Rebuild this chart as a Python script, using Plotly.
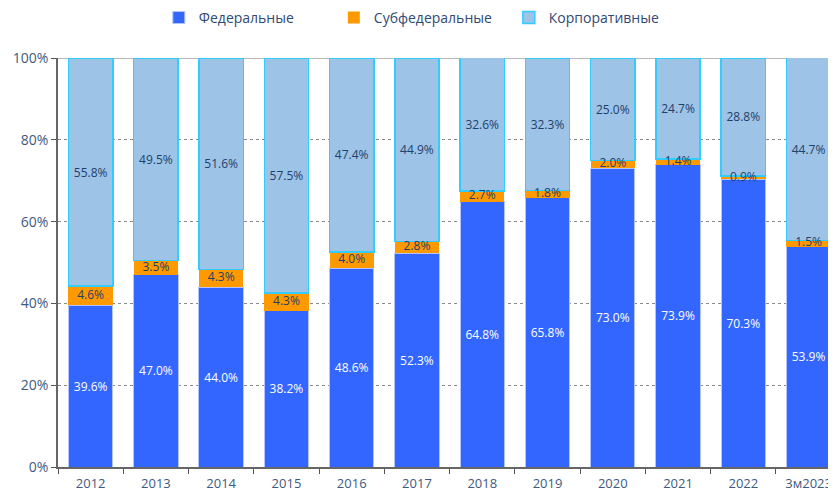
import plotly.graph_objects as go

categories = ["2012", "2013", "2014", "2015", "2016", "2017", "2018", "2019", "2020", "2021", "2022", "3м2023"]
federal = [39.6, 47.0, 44.0, 38.2, 48.6, 52.3, 64.8, 65.8, 73.0, 73.9, 70.3, 53.9]
subfederal = [4.6, 3.5, 4.3, 4.3, 4.0, 2.8, 2.7, 1.8, 2.0, 1.4, 0.9, 1.5]
corporate = [55.8, 49.5, 51.6, 57.5, 47.4, 44.9, 32.6, 32.3, 25.0, 24.7, 28.8, 44.7]
y_ticks = [0, 20, 40, 60, 80, 100]
y_tick_labels = ["0%", "20%", "40%", "60%", "80%", "100%"]

FONT = "Open Sans"
label_dark = "#1F3F6B"
axis_col = "#3E5A82"

def fmt(v):
    return [f"{x:.1f}%" for x in v]

fig = go.Figure()
fig.add_trace(go.Bar(
    x=categories, y=federal, name="Федеральные",
    marker=dict(color="#3366FF", line=dict(width=1, color="#B3C4FF")),
    text=fmt(federal), textposition="inside", insidetextanchor="middle",
    textfont=dict(color="white", size=12, family=FONT),
))
fig.add_trace(go.Bar(
    x=categories, y=subfederal, name="Субфедеральные",
    marker=dict(color="#FF9900", line=dict(width=0)),
    textposition="none",
))
fig.add_trace(go.Bar(
    x=categories, y=corporate, name="Корпоративные",
    marker=dict(color="#9DC3E6", line=dict(width=1.5, color="#33CCFF")),
    text=fmt(corporate), textposition="inside", insidetextanchor="middle",
    textfont=dict(color=label_dark, size=12, family=FONT),
))
# subfederal labels drawn on top so they can overflow thin segments
sub_mid = [f + s / 2 for f, s in zip(federal, subfederal)]
fig.add_trace(go.Scatter(
    x=categories, y=sub_mid, mode="text", text=fmt(subfederal),
    textposition="middle center", showlegend=False, hoverinfo="skip",
    textfont=dict(color=label_dark, size=12, family=FONT),
))

fig.add_shape(type="line", xref="paper", yref="y", x0=0, x1=1, y0=100, y1=100,
              line=dict(color="#A0A0A0", width=1.5), layer="below")

fig.update_layout(
    barmode="stack",
    bargap=0.32,
    width=828, height=483,
    margin=dict(l=50, r=0, t=50, b=24, autoexpand=False),
    paper_bgcolor="white", plot_bgcolor="white",
    font=dict(family=FONT, color=axis_col, size=13),
    uniformtext=dict(minsize=12, mode="show"),
    showlegend=True,
    legend=dict(orientation="h", x=0.467, xanchor="center", y=1.098, yanchor="middle",
                entrywidth=130, entrywidthmode="pixels",
                font=dict(size=14, color="#2F4A75", family=FONT),
                traceorder="normal", itemclick=False),
    xaxis=dict(type="category", range=[-0.5, 11.42], tickson="boundaries",
               ticks="outside", ticklen=5, tickcolor="#555", showline=True,
               linecolor="#666", linewidth=1.5, showgrid=False, automargin=False,
               ticklabelstandoff=4,
               tickfont=dict(size=13, color=axis_col)),
    yaxis=dict(range=[0, 100], tickvals=y_ticks, ticktext=y_tick_labels,
               ticks="outside", automargin=False,
               ticklen=5, tickcolor="#555", showline=True, linecolor="#666",
               linewidth=1.5, showgrid=True, gridcolor="#8A8A8A", griddash="dot",
               gridwidth=1.2, zeroline=False,
               tickfont=dict(size=14, color=axis_col)),
)

fig.write_html("out.html")
